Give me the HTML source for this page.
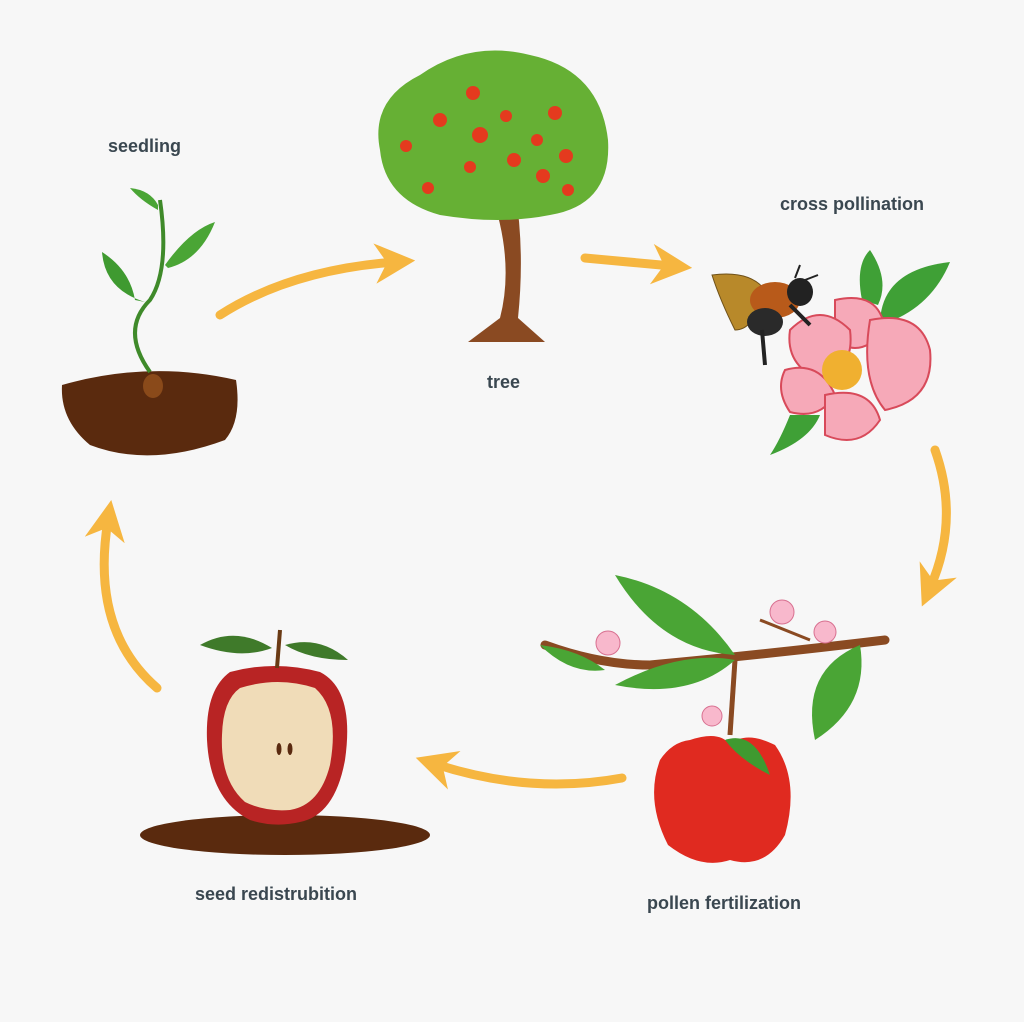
<!DOCTYPE html>
<html><head><meta charset="utf-8"><style>
html,body{margin:0;padding:0;background:#f7f7f7;}
svg{display:block}
text{font-family:"Liberation Sans",sans-serif;font-size:18px;font-weight:bold;fill:#3a4750;}
</style></head><body>
<svg width="1024" height="1022" viewBox="0 0 1024 1022">
<rect width="1024" height="1022" fill="#f7f7f7"/>
<defs>
<marker id="ah" viewBox="0 0 10 10" refX="5" refY="5" markerWidth="4.5" markerHeight="4.5" orient="auto">
<path d="M0,0 L10,5 L0,10 L3,5 Z" fill="#f6b640"/></marker>
</defs>
<g fill="none" stroke="#f6b640" stroke-width="9" stroke-linecap="round">
<path d="M220,315 Q290,270 395,262" marker-end="url(#ah)"/>
<path d="M585,258 Q630,262 672,266" marker-end="url(#ah)"/>
<path d="M935,450 Q960,520 930,588" marker-end="url(#ah)"/>
<path d="M622,778 Q530,795 435,764" marker-end="url(#ah)"/>
<path d="M157,688 Q90,630 108,520" marker-end="url(#ah)"/>
</g>
<text x="108" y="152">seedling</text>
<text x="487" y="388">tree</text>
<text x="780" y="210">cross pollination</text>
<text x="647" y="909">pollen fertilization</text>
<text x="195" y="900">seed redistrubition</text>
<path d="M62,385 Q150,360 236,380 Q242,420 225,440 Q150,468 90,445 Q60,420 62,385Z" fill="#5a2a0e"/>
<ellipse cx="153" cy="386" rx="10" ry="12" fill="#8a4a1a"/>
<path d="M150,372 Q120,330 150,300 Q170,270 160,200" stroke="#3f8a2a" stroke-width="4" fill="none"/>
<path d="M145,302 Q105,290 102,252 Q130,270 135,300Z" fill="#3f9a30"/>
<path d="M165,265 Q190,230 215,222 Q200,260 168,268Z" fill="#4aa535"/>
<path d="M158,210 Q140,200 130,188 Q150,190 158,205Z" fill="#4aa535"/>
<path d="M490,190 Q515,260 500,318 L468,342 L545,342 L518,318 Q525,250 515,190Z" fill="#8a4a22"/>
<path d="M380,150 Q370,100 420,75 Q470,40 530,55 Q600,70 608,140 Q612,205 550,215 Q500,225 440,215 Q385,200 380,150Z" fill="#66b034"/>
<g fill="#e43a1e">
<circle cx="473" cy="93" r="7"/><circle cx="440" cy="120" r="7"/><circle cx="480" cy="135" r="8"/><circle cx="506" cy="116" r="6"/><circle cx="555" cy="113" r="7"/><circle cx="537" cy="140" r="6"/><circle cx="406" cy="146" r="6"/><circle cx="470" cy="167" r="6"/><circle cx="514" cy="160" r="7"/><circle cx="566" cy="156" r="7"/><circle cx="543" cy="176" r="7"/><circle cx="428" cy="188" r="6"/><circle cx="568" cy="190" r="6"/>
</g>
<path d="M880,325 Q880,270 950,262 Q930,310 880,325Z" fill="#3fa036"/>
<path d="M862,300 Q855,265 870,250 Q890,280 878,305Z" fill="#3fa036"/>
<path d="M790,415 Q780,440 770,455 Q810,440 820,415Z" fill="#3fa036"/>
<g fill="#f6a9b8" stroke="#d84a5a" stroke-width="2">
<path d="M835,300 Q880,290 885,330 Q860,360 835,340Z"/>
<path d="M870,320 Q920,310 930,350 Q935,400 885,410 Q860,380 870,320Z"/>
<path d="M790,330 Q820,300 850,330 Q855,370 820,380 Q785,365 790,330Z"/>
<path d="M785,370 Q820,360 835,395 Q820,420 790,412 Q775,390 785,370Z"/>
<path d="M825,395 Q870,385 880,420 Q860,450 825,435Z"/>
</g>
<circle cx="842" cy="370" r="20" fill="#f0b030"/>
<path d="M712,275 Q750,270 765,290 Q755,330 735,330 Q720,300 712,275Z" fill="#b8892a" stroke="#6e5018"/>
<ellipse cx="775" cy="300" rx="25" ry="18" fill="#b85a1a"/>
<ellipse cx="765" cy="322" rx="18" ry="14" fill="#2a2a2a"/>
<ellipse cx="800" cy="292" rx="13" ry="14" fill="#222"/>
<path d="M795,278 L800,265 M805,280 L818,275" stroke="#222" stroke-width="2"/>
<path d="M762,330 L765,365 M790,305 L810,325" stroke="#222" stroke-width="4"/>
<path d="M545,645 Q600,665 650,665 Q760,655 885,640" stroke="#8a4a22" stroke-width="9" fill="none" stroke-linecap="round"/>
<path d="M735,660 L730,735" stroke="#8a4a22" stroke-width="5"/>
<path d="M760,620 L810,640" stroke="#8a4a22" stroke-width="3"/>
<path d="M615,575 Q690,590 735,655 Q660,650 615,575Z" fill="#4aa535"/>
<path d="M615,685 Q680,650 735,660 Q690,700 615,685Z" fill="#4aa535"/>
<path d="M540,645 Q580,650 605,670 Q570,675 540,645Z" fill="#4aa535"/>
<path d="M815,740 Q800,670 860,645 Q870,705 815,740Z" fill="#4aa535"/>
<g fill="#f8b8cc" stroke="#d87090">
<circle cx="608" cy="643" r="12"/><circle cx="782" cy="612" r="12"/><circle cx="825" cy="632" r="11"/><circle cx="712" cy="716" r="10"/>
</g>
<path d="M690,740 Q720,730 730,745 Q745,730 775,745 Q800,780 785,835 Q765,870 730,860 Q700,870 668,845 Q645,800 660,760 Q672,742 690,740Z" fill="#e02a20"/>
<path d="M725,740 Q755,730 770,775 Q740,760 725,740Z" fill="#3f9a30"/>
<ellipse cx="285" cy="835" rx="145" ry="20" fill="#5a2a0e"/>
<path d="M230,672 Q275,660 320,672 Q355,690 345,760 Q335,815 300,822 Q275,828 250,820 Q210,800 207,740 Q205,690 230,672Z" fill="#b82424"/>
<path d="M240,688 Q278,676 315,688 Q340,710 330,765 Q320,805 290,810 Q265,812 245,802 Q220,780 222,735 Q223,700 240,688Z" fill="#f0dcb8"/>
<ellipse cx="279" cy="749" rx="2.5" ry="6" fill="#5a2a10"/><ellipse cx="290" cy="749" rx="2.5" ry="6" fill="#5a2a10"/>
<path d="M277,668 L280,630" stroke="#6a3a14" stroke-width="4"/>
<path d="M272,648 Q235,625 200,645 Q240,660 272,648Z" fill="#3f7a2a"/>
<path d="M285,645 Q320,635 348,660 Q310,660 285,645Z" fill="#3f7a2a"/>
</svg>
</body></html>
